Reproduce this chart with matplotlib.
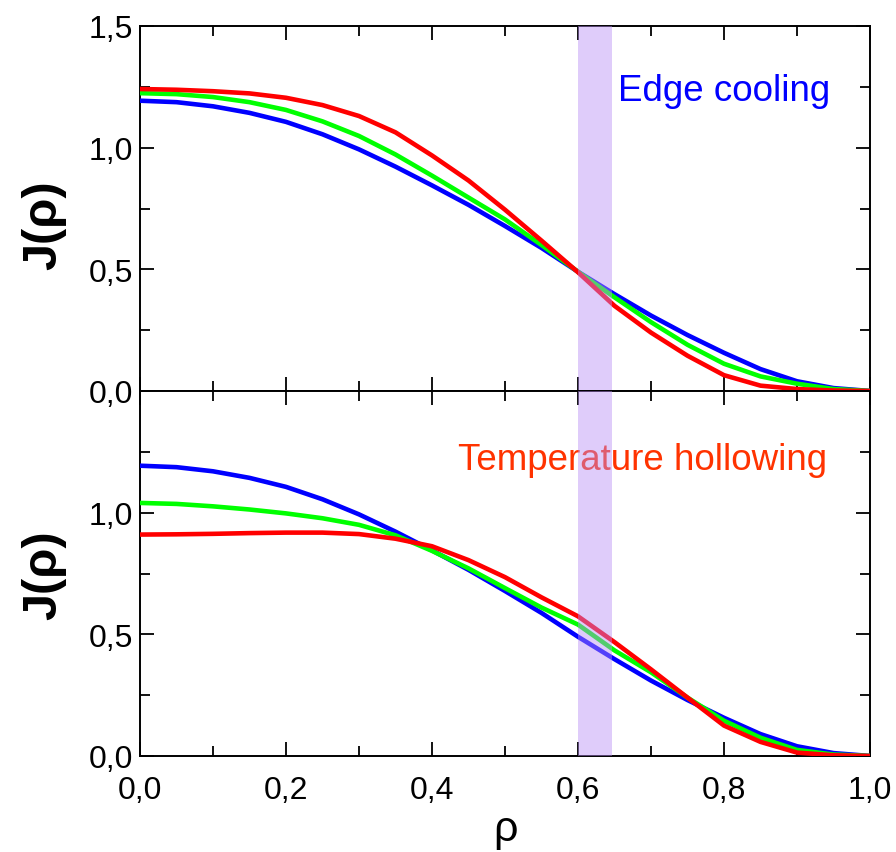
import numpy as np
import matplotlib
matplotlib.use("Agg")
import matplotlib.pyplot as plt
from matplotlib.ticker import MultipleLocator, FuncFormatter

plt.rcParams['font.family'] = ['Liberation Sans', 'DejaVu Sans']

# radial coordinate
rho = [0.00, 0.05, 0.10, 0.15, 0.20, 0.25, 0.30, 0.35, 0.40, 0.45, 0.50,
       0.55, 0.60, 0.65, 0.70, 0.75, 0.80, 0.85, 0.90, 0.95, 1.00]

# reference profile (blue, same in both panels)
j_ref = [1.193, 1.187, 1.170, 1.143, 1.106, 1.055, 0.993, 0.922, 0.845, 0.765, 0.678,
         0.588, 0.490, 0.398, 0.310, 0.230, 0.157, 0.090, 0.040, 0.012, 0.000]

# edge cooling panel
j_edge_green = [1.224, 1.220, 1.208, 1.187, 1.155, 1.108, 1.048, 0.972, 0.885, 0.795, 0.705,
                0.600, 0.490, 0.385, 0.283, 0.190, 0.112, 0.060, 0.030, 0.008, 0.000]
j_edge_red = [1.241, 1.238, 1.232, 1.223, 1.205, 1.175, 1.130, 1.063, 0.968, 0.865, 0.745,
              0.618, 0.488, 0.350, 0.240, 0.145, 0.065, 0.022, 0.008, 0.002, 0.000]

# temperature hollowing panel
j_hol_green = [1.040, 1.036, 1.026, 1.013, 0.997, 0.977, 0.950, 0.907, 0.843, 0.771, 0.690,
               0.610, 0.540, 0.434, 0.344, 0.240, 0.145, 0.075, 0.025, 0.006, 0.000]
j_hol_red = [0.910, 0.911, 0.913, 0.916, 0.918, 0.918, 0.912, 0.893, 0.862, 0.805, 0.735,
             0.652, 0.574, 0.468, 0.356, 0.240, 0.125, 0.058, 0.014, 0.003, 0.000]

band = (0.60, 0.646)

fig = plt.figure(figsize=(8.96, 8.53), dpi=100)
ax1 = fig.add_axes([140/896, 1-392/853, 730/896, 365/853])
ax2 = fig.add_axes([140/896, 1-757/853, 730/896, 365/853], sharex=ax1)

comma = FuncFormatter(lambda v, p: f"{v:.1f}".replace('.', ','))

panels = [(ax1, j_edge_green, j_edge_red), (ax2, j_hol_green, j_hol_red)]
for ax, jg, jr in panels:
    ax.plot(rho, j_ref, color='#0000ff', lw=3.3, zorder=3)
    ax.plot(rho, jg, color='#00ff00', lw=3.3, zorder=3)
    ax.plot(rho, jr, color='#ff0000', lw=3.3, zorder=4)
    ax.axvspan(band[0], band[1], color='#ba8ef4', alpha=0.45, lw=0, zorder=5)
    ax.set_xlim(0, 1)
    ax.set_ylim(0, 1.5)
    ax.xaxis.set_major_locator(MultipleLocator(0.2))
    ax.xaxis.set_minor_locator(MultipleLocator(0.1))
    ax.yaxis.set_major_locator(MultipleLocator(0.5))
    ax.yaxis.set_minor_locator(MultipleLocator(0.25))
    ax.tick_params(which='both', direction='in', top=True, right=True, width=1.3,
                   labelsize=23, colors='black')
    ax.tick_params(which='major', length=10)
    ax.tick_params(which='minor', length=7)
    ax.tick_params(axis='y', pad=5)
    ax.tick_params(axis='x', pad=14)
    ax.yaxis.set_major_formatter(comma)
    ax.xaxis.set_major_formatter(comma)
    for s in ax.spines.values():
        s.set_linewidth(1.4)

ax1.tick_params(labelbottom=False)
ax2.set_yticks([0.0, 0.5, 1.0])

ax1.text(0.655, 1.235, 'Edge cooling', color='#0000ff', fontsize=26.5,
         ha='left', va='center', zorder=2)
ax2.text(0.436, 1.22, 'Temperature hollowing', color='#ff3300', fontsize=26.5,
         ha='left', va='center', zorder=2)

fig.text(44/896, 1-225/853, 'J(ρ)', rotation=90, fontsize=35, fontweight='bold',
         ha='center', va='center')
fig.text(44/896, 1-575/853, 'J(ρ)', rotation=90, fontsize=35, fontweight='bold',
         ha='center', va='center')
fig.text(505/896, 1-830/853, 'ρ', fontsize=31, ha='center', va='center')

fig.savefig('out.png', dpi=100)
